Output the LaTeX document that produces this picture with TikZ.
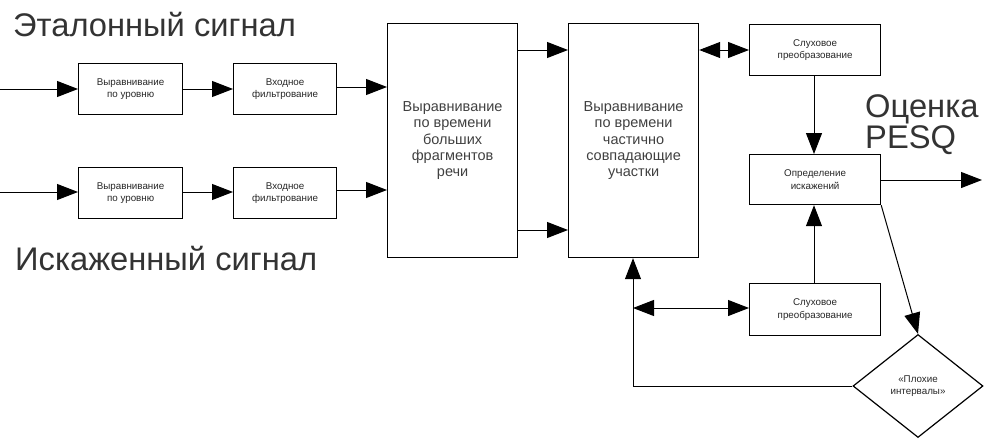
\documentclass[tikz,border=0pt]{standalone}
\usepackage{fontspec}
\setmainfont{Liberation Sans}
\usetikzlibrary{arrows.meta,shapes.geometric}
\tikzset{
  sbox/.style={draw,line width=1.2pt,inner sep=0pt,anchor=north west,align=center,text=black!85,font=\fontsize{9.8}{12.5}\selectfont},
  bbox/.style={draw,line width=1.2pt,inner sep=0pt,anchor=north west,align=center,text=black!75,font=\fontsize{14.5}{16.3}\selectfont},
  big/.style={text=black!80,inner sep=0pt,font=\fontsize{32.7}{31}\selectfont},
  tip/.style={},
  arr/.style={line width=1pt,-{Triangle[length=21pt,width=16pt]}},
  darr/.style={line width=1pt,{Triangle[length=21pt,width=16pt]}-{Triangle[length=21pt,width=16pt]}},
}
\begin{document}
\begin{tikzpicture}[x=1pt,y=-1pt]
\useasboundingbox (0,0) rectangle (994,439);
% titles
\node[big,anchor=base west] (t1) at (13,36) {Эталонный сигнал};
\node[big,anchor=base west] (t2) at (15,270) {Искаженный сигнал};
\node[big,anchor=base west,align=left] (t3) at (865,148) {Оценка\\PESQ};
% input coordinates
\coordinate (in1) at (0,89);
\coordinate (in2) at (0,192);
% small boxes
\node[sbox,minimum width=104pt,minimum height=51pt] (a1) at (78,63) {Выравнивание\\по уровню};
\node[sbox,minimum width=103pt,minimum height=51pt] (b1) at (233,63) {Входное\\фильтрование};
\node[sbox,minimum width=104pt,minimum height=51pt] (a2) at (78,167) {Выравнивание\\по уровню};
\node[sbox,minimum width=103pt,minimum height=51pt] (b2) at (233,167) {Входное\\фильтрование};
% big boxes
\node[bbox,minimum width=130pt,minimum height=234pt] (c) at (387,23) {Выравнивание\\по времени\\больших\\фрагментов\\речи};
\node[bbox,minimum width=130pt,minimum height=234pt] (d) at (568,23) {Выравнивание\\по времени\\частично\\совпадающие\\участки};
% right boxes
\node[sbox,minimum width=131pt,minimum height=51pt] (e) at (749,24) {Слуховое\\преобразование};
\node[sbox,minimum width=131pt,minimum height=50pt] (f) at (749,154) {Определение\\искажений};
\node[sbox,minimum width=131pt,minimum height=52pt] (g) at (749,283) {Слуховое\\преобразование};
\node[draw,line width=1.2pt,diamond,minimum width=130pt,minimum height=103pt,inner sep=0pt,align=center,text=black!85,font=\fontsize{9.8}{12.5}\selectfont] (h) at (918,386) {«Плохие\\интервалы»};
\coordinate (out) at (982,180);
\coordinate (corner) at (633,386);
\coordinate (mid) at (633,308);
% connectors
\draw[arr] (in1) -- (a1.west |- in1);
\draw[arr] (in2) -- (a2.west |- in2);
\draw[arr] (a1.east |- in1) -- (b1.west |- in1);
\draw[arr] (a2.east |- in2) -- (b2.west |- in2);
\draw[arr] (b1.east |- 0,87) -- (c.west |- 0,87);
\draw[arr] (b2.east |- 0,190) -- (c.west |- 0,190);
\draw[arr] (c.east |- 0,50) -- (d.west |- 0,50);
\draw[arr] (c.east |- 0,230) -- (d.west |- 0,230);
\draw[darr] (d.east |- 0,50) -- (e.west |- 0,50);
\draw[arr] (e.south -| 814,0) -- (f.north -| 814,0);
\draw[arr] (g.north -| 814,0) -- (f.south -| 814,0);
\draw[arr] (f.east |- out) -- (out);
\draw[arr] (f.south east) -- (h.north);
\draw[darr] (mid) -- (g.west |- mid);
\draw[line width=1pt,-{Triangle[length=21pt,width=16pt]}] (h.west) -- (corner) -- (corner |- d.south);
\end{tikzpicture}
\end{document}
